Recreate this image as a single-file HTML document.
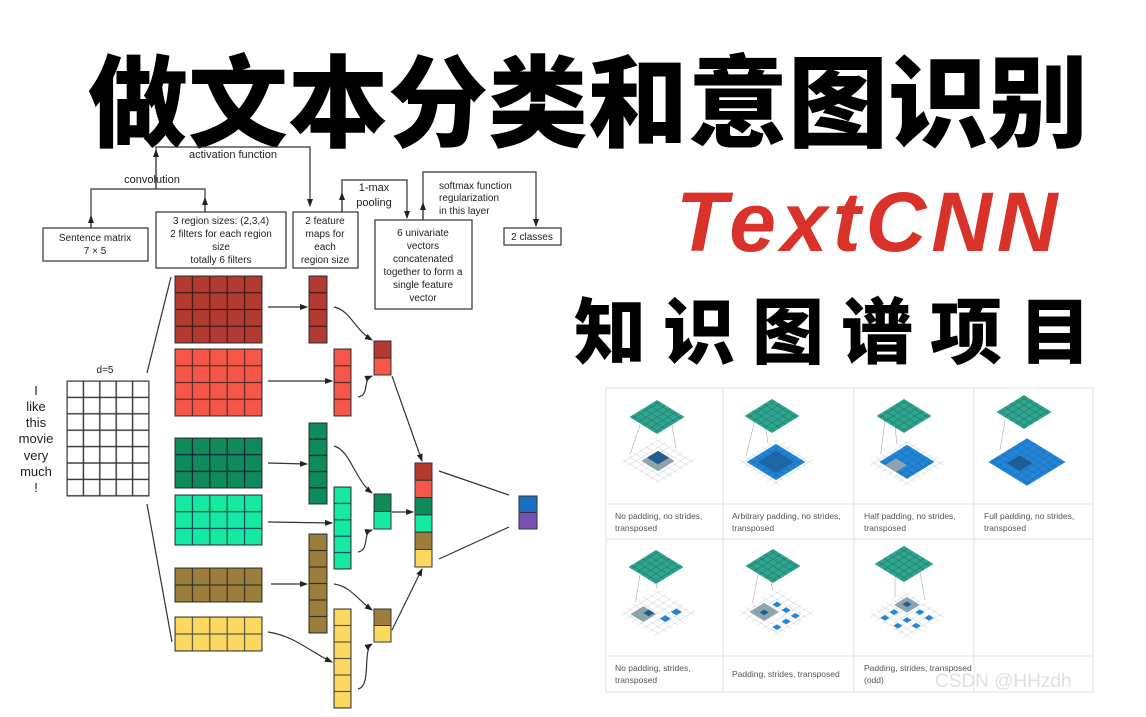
<!DOCTYPE html>
<html><head><meta charset="utf-8"><style>
html,body{margin:0;padding:0;background:#fff;}
body{width:1146px;height:717px;position:relative;overflow:hidden;}
.t{position:absolute;white-space:nowrap;}
</style></head><body>
<div class="t" style="left:88px;top:36px;font:900 100px/120px 'Noto Sans CJK SC',sans-serif;color:#000;">做文本分类和意图识别</div>
<div class="t" style="left:676px;top:172px;font:italic bold 84px/100px 'Liberation Sans',sans-serif;color:#d9322a;letter-spacing:5px;">TextCNN</div>
<div class="t" style="left:574px;top:282px;font:900 72px/90px 'Noto Sans CJK SC',sans-serif;color:#000;letter-spacing:17px;">知识图谱项目</div>

<svg width="1146" height="717" style="position:absolute;left:0;top:0" xmlns="http://www.w3.org/2000/svg">
<defs>
<marker id="ar" markerWidth="8" markerHeight="8" refX="7" refY="4" orient="auto" markerUnits="userSpaceOnUse"><path d="M0,1 L8,4 L0,7 z" fill="#222"/></marker>
<pattern id="g0" x="67" y="381" width="16.4" height="16.4" patternUnits="userSpaceOnUse"><rect width="16.4" height="16.4" fill="#fff" stroke="#333" stroke-width="1.4"/></pattern>
<pattern id="m1" x="175" y="276" width="17.4" height="16.75" patternUnits="userSpaceOnUse"><rect width="17.4" height="16.75" fill="#b23a30" stroke="#3a1a16" stroke-width="1.2"/></pattern>
<pattern id="m2" x="175" y="349" width="17.4" height="16.75" patternUnits="userSpaceOnUse"><rect width="17.4" height="16.75" fill="#f4574a" stroke="#5a2a22" stroke-width="1.2"/></pattern>
<pattern id="m3" x="175" y="438" width="17.4" height="16.7" patternUnits="userSpaceOnUse"><rect width="17.4" height="16.7" fill="#0f8a5a" stroke="#123" stroke-width="1.2"/></pattern>
<pattern id="m4" x="175" y="495" width="17.4" height="16.7" patternUnits="userSpaceOnUse"><rect width="17.4" height="16.7" fill="#14eaa2" stroke="#245" stroke-width="1.2"/></pattern>
<pattern id="m5" x="175" y="568" width="17.4" height="17" patternUnits="userSpaceOnUse"><rect width="17.4" height="17" fill="#9c7e3c" stroke="#332" stroke-width="1.2"/></pattern>
<pattern id="m6" x="175" y="617" width="17.4" height="17" patternUnits="userSpaceOnUse"><rect width="17.4" height="17" fill="#fbd860" stroke="#554" stroke-width="1.2"/></pattern>
<pattern id="c1" x="309" y="276" width="18" height="16.75" patternUnits="userSpaceOnUse"><rect width="18" height="16.75" fill="#b23a30" stroke="#3a1a16" stroke-width="1.2"/></pattern>
<pattern id="c2" x="334" y="349" width="17" height="16.75" patternUnits="userSpaceOnUse"><rect width="17" height="16.75" fill="#f4574a" stroke="#5a2a22" stroke-width="1.2"/></pattern>
<pattern id="c3" x="309" y="423" width="18" height="16.2" patternUnits="userSpaceOnUse"><rect width="18" height="16.2" fill="#0f8a5a" stroke="#123" stroke-width="1.2"/></pattern>
<pattern id="c4" x="334" y="487" width="17" height="16.4" patternUnits="userSpaceOnUse"><rect width="17" height="16.4" fill="#14eaa2" stroke="#245" stroke-width="1.2"/></pattern>
<pattern id="c5" x="309" y="534" width="18" height="16.5" patternUnits="userSpaceOnUse"><rect width="18" height="16.5" fill="#9c7e3c" stroke="#332" stroke-width="1.2"/></pattern>
<pattern id="c6" x="334" y="609" width="17" height="16.5" patternUnits="userSpaceOnUse"><rect width="17" height="16.5" fill="#fbd860" stroke="#554" stroke-width="1.2"/></pattern>
<pattern id="teal" x="0" y="0" width="6" height="6" patternUnits="userSpaceOnUse"><rect width="6" height="6" fill="#2ea58e" stroke="#1d6e60" stroke-width="0.5"/></pattern>
<pattern id="dash" x="0" y="0" width="6" height="6" patternUnits="userSpaceOnUse"><rect width="6" height="6" fill="#fff" stroke="#8a9aa8" stroke-width="0.4" stroke-dasharray="1,1"/></pattern>
<pattern id="blue" x="0" y="0" width="6" height="6" patternUnits="userSpaceOnUse"><rect width="6" height="6" fill="#2286d8" stroke="#1a5f9c" stroke-width="0.4"/></pattern>
</defs>

<g fill="none" stroke="#333" stroke-width="1.2">
<!-- top connectors -->
<polyline points="156,189 156,147 310,147 310,206" marker-end="url(#ar)"/>
<line x1="156" y1="189" x2="156" y2="150" marker-end="url(#ar)"/>
<polyline points="91,228 91,189 205,189 205,212"/>
<line x1="91" y1="228" x2="91" y2="216" marker-end="url(#ar)"/>
<line x1="205" y1="212" x2="205" y2="198" marker-end="url(#ar)"/>
<polyline points="342,212 342,180 407,180 407,218" marker-end="url(#ar)"/>
<line x1="342" y1="212" x2="342" y2="193" marker-end="url(#ar)"/>
<polyline points="423,220 423,172 536,172 536,226" marker-end="url(#ar)"/>
<line x1="423" y1="220" x2="423" y2="203" marker-end="url(#ar)"/>
<!-- boxes -->
<rect x="43" y="228" width="105" height="33" fill="#fff"/>
<rect x="156" y="212" width="130" height="56" fill="#fff"/>
<rect x="293" y="212" width="65" height="56" fill="#fff"/>
<rect x="375" y="220" width="97" height="89" fill="#fff"/>
<rect x="504" y="228" width="57" height="17" fill="#fff"/>
<!-- lines from input -->
<line x1="147" y1="373" x2="171" y2="277"/>
<line x1="147" y1="504" x2="172" y2="642"/>
<!-- matrix to feature -->
<line x1="268" y1="307" x2="307" y2="307" marker-end="url(#ar)"/>
<line x1="268" y1="381" x2="332" y2="381" marker-end="url(#ar)"/>
<line x1="268" y1="463" x2="307" y2="464" marker-end="url(#ar)"/>
<line x1="268" y1="522" x2="332" y2="523" marker-end="url(#ar)"/>
<line x1="271" y1="584" x2="307" y2="584" marker-end="url(#ar)"/>
<path d="M268,632 C295,636 310,652 332,662" marker-end="url(#ar)"/>
<!-- feature to pooled -->
<path d="M334,307 C350,310 355,330 372,340" marker-end="url(#ar)"/>
<path d="M358,397 C370,395 362,380 372,376" marker-end="url(#ar)"/>
<path d="M334,446 C350,450 355,480 372,493" marker-end="url(#ar)"/>
<path d="M358,552 C370,550 362,533 372,530" marker-end="url(#ar)"/>
<path d="M334,584 C350,586 358,600 372,610" marker-end="url(#ar)"/>
<path d="M358,689 C372,686 362,650 372,644" marker-end="url(#ar)"/>
<!-- pooled to vector -->
<line x1="392" y1="376" x2="422" y2="461" marker-end="url(#ar)"/>
<line x1="392" y1="512" x2="413" y2="512" marker-end="url(#ar)"/>
<line x1="392" y1="630" x2="422" y2="569" marker-end="url(#ar)"/>
<line x1="439" y1="471" x2="509" y2="495"/>
<line x1="439" y1="559" x2="509" y2="527"/>
</g>

<g font-family="Liberation Sans, sans-serif" font-size="11" fill="#222" text-anchor="middle">
<text x="233" y="158">activation function</text>
<text x="152" y="183">convolution</text>
<text x="95" y="241" font-size="10">Sentence matrix</text>
<text x="95" y="254" font-size="10">7 × 5</text>
<text x="221" y="224" font-size="10">3 region sizes: (2,3,4)</text>
<text x="221" y="237" font-size="10">2 filters for each region</text>
<text x="221" y="250" font-size="10">size</text>
<text x="221" y="263" font-size="10">totally 6 filters</text>
<text x="325" y="224" font-size="10">2 feature</text>
<text x="325" y="237" font-size="10">maps for</text>
<text x="325" y="250" font-size="10">each</text>
<text x="325" y="263" font-size="10">region size</text>
<text x="374" y="191">1-max</text>
<text x="374" y="206">pooling</text>
<text x="423" y="236" font-size="10">6 univariate</text>
<text x="423" y="249" font-size="10">vectors</text>
<text x="423" y="262" font-size="10">concatenated</text>
<text x="423" y="275" font-size="10">together to form a</text>
<text x="423" y="288" font-size="10">single feature</text>
<text x="423" y="301" font-size="10">vector</text>
<text x="532" y="240" font-size="10">2 classes</text>
<g text-anchor="start" font-size="10"><text x="439" y="189">softmax function</text><text x="439" y="201">regularization</text><text x="439" y="214">in this layer</text></g>
<text x="105" y="373" font-size="10">d=5</text>
<g font-size="13"><text x="36" y="395">I</text><text x="36" y="411">like</text><text x="36" y="427">this</text><text x="36" y="443">movie</text><text x="36" y="460">very</text><text x="36" y="476">much</text><text x="36" y="492">!</text></g>
</g>

<!-- grids -->
<g stroke="#333" stroke-width="1">
<rect x="67" y="381" width="82" height="115" fill="url(#g0)"/>
<rect x="175" y="276" width="87" height="67" fill="url(#m1)"/>
<rect x="175" y="349" width="87" height="67" fill="url(#m2)"/>
<rect x="175" y="438" width="87" height="50" fill="url(#m3)"/>
<rect x="175" y="495" width="87" height="50" fill="url(#m4)"/>
<rect x="175" y="568" width="87" height="34" fill="url(#m5)"/>
<rect x="175" y="617" width="87" height="34" fill="url(#m6)"/>
<rect x="309" y="276" width="18" height="67" fill="url(#c1)"/>
<rect x="334" y="349" width="17" height="67" fill="url(#c2)"/>
<rect x="309" y="423" width="18" height="81" fill="url(#c3)"/>
<rect x="334" y="487" width="17" height="82" fill="url(#c4)"/>
<rect x="309" y="534" width="18" height="99" fill="url(#c5)"/>
<rect x="334" y="609" width="17" height="99" fill="url(#c6)"/>
<rect x="374" y="341" width="17" height="17" fill="#b23a30"/><rect x="374" y="358" width="17" height="17" fill="#f4574a"/>
<rect x="374" y="494" width="17" height="17.5" fill="#0f8a5a"/><rect x="374" y="511.5" width="17" height="17.5" fill="#14eaa2"/>
<rect x="374" y="609" width="17" height="16.5" fill="#9c7e3c"/><rect x="374" y="625.5" width="17" height="16.5" fill="#fbd860"/>
<rect x="415" y="463" width="17" height="17.3" fill="#b23a30"/><rect x="415" y="480.3" width="17" height="17.3" fill="#f4574a"/>
<rect x="415" y="497.6" width="17" height="17.3" fill="#0f8a5a"/><rect x="415" y="514.9" width="17" height="17.3" fill="#14eaa2"/>
<rect x="415" y="532.2" width="17" height="17.3" fill="#9c7e3c"/><rect x="415" y="549.5" width="17" height="17.5" fill="#fbd860"/>
<rect x="519" y="496" width="18" height="16.5" fill="#1a6fc0"/><rect x="519" y="512.5" width="18" height="16.5" fill="#7a4fb5"/>
</g>

<!-- right table -->
<g stroke="#e2e2e2" stroke-width="1" fill="none">
<rect x="606" y="388" width="487" height="304"/>
<line x1="723" y1="388" x2="723" y2="692"/><line x1="854" y1="388" x2="854" y2="692"/><line x1="974" y1="388" x2="974" y2="692"/>
<line x1="606" y1="504" x2="1093" y2="504"/><line x1="606" y1="539" x2="1093" y2="539"/><line x1="606" y1="656" x2="1093" y2="656"/>
</g>
<g stroke="#aaa" stroke-width="0.6">
<line x1="640" y1="425" x2="630" y2="455"/><line x1="672" y1="425" x2="678" y2="460"/>
<line x1="755" y1="420" x2="745" y2="460"/><line x1="765" y1="425" x2="770" y2="455"/>
<line x1="885" y1="420" x2="880" y2="460"/><line x1="895" y1="425" x2="898" y2="455"/>
<line x1="1005" y1="420" x2="1000" y2="450"/><line x1="640" y1="575" x2="635" y2="605"/>
<line x1="655" y1="578" x2="660" y2="605"/><line x1="758" y1="575" x2="752" y2="605"/><line x1="770" y1="578" x2="775" y2="600"/>
<line x1="895" y1="572" x2="895" y2="600"/><line x1="920" y1="572" x2="925" y2="600"/>
</g>
<!-- bottom grids -->
<g transform="translate(658,461) scale(1.3,0.8) rotate(45)"><rect x="-21" y="-21" width="42" height="42" fill="url(#dash)"/><rect x="-9" y="-9" width="18" height="18" fill="#8fa3ad"/><rect x="-9" y="-9" width="12" height="12" fill="#1f5f8f"/></g>
<g transform="translate(776,462) scale(1.3,0.8) rotate(45)"><rect x="-22" y="-22" width="44" height="44" fill="url(#dash)"/><rect x="-16" y="-16" width="32" height="32" fill="url(#blue)"/><rect x="-10" y="-10" width="20" height="20" fill="#1c5f98" opacity="0.8"/></g>
<g transform="translate(907,463) scale(1.3,0.8) rotate(45)"><rect x="-22" y="-22" width="44" height="44" fill="url(#dash)"/><rect x="-16" y="-16" width="30" height="30" fill="url(#blue)"/><rect x="-10" y="2" width="12" height="12" fill="#8fa3ad"/></g>
<g transform="translate(1027,462) scale(1.3,0.8) rotate(45)"><rect x="-21" y="-21" width="42" height="42" fill="url(#blue)"/><rect x="-10" y="-2" width="14" height="14" fill="#1c5f98"/></g>
<g transform="translate(658,613) scale(1.3,0.8) rotate(45)"><rect x="-22" y="-22" width="44" height="44" fill="url(#dash)"/><rect x="-14" y="2" width="14" height="14" fill="#8fa3ad"/><rect x="-8" y="2" width="6" height="6" fill="#1f5f8f"/><rect x="6" y="-2" width="6" height="6" fill="#2286d8"/><rect x="6" y="-14" width="6" height="6" fill="#2286d8"/></g>
<g transform="translate(777,613) scale(1.3,0.8) rotate(45)"><rect x="-22" y="-22" width="44" height="44" fill="url(#dash)"/><rect x="-16" y="-2" width="16" height="16" fill="#8fa3ad"/><rect x="-10" y="-10" width="5" height="5" fill="#2286d8"/><rect x="0" y="-10" width="5" height="5" fill="#2286d8"/><rect x="10" y="-10" width="5" height="5" fill="#2286d8"/><rect x="10" y="0" width="5" height="5" fill="#2286d8"/><rect x="10" y="10" width="5" height="5" fill="#2286d8"/><rect x="-10" y="4" width="5" height="5" fill="#1f5f8f"/></g>
<g transform="translate(907,615) scale(1.3,0.8) rotate(45)"><rect x="-22" y="-22" width="44" height="44" fill="url(#dash)"/><rect x="-16" y="-16" width="14" height="14" fill="#8fa3ad"/><rect x="-12" y="-12" width="5" height="5" fill="#1f5f8f"/><rect x="2" y="-12" width="5" height="5" fill="#2286d8"/><rect x="12" y="-12" width="5" height="5" fill="#2286d8"/><rect x="-12" y="2" width="5" height="5" fill="#2286d8"/><rect x="2" y="2" width="5" height="5" fill="#2286d8"/><rect x="12" y="2" width="5" height="5" fill="#2286d8"/><rect x="-12" y="12" width="5" height="5" fill="#2286d8"/><rect x="2" y="12" width="5" height="5" fill="#2286d8"/></g>
<!-- top teal -->
<g transform="translate(657,417) scale(1.3,0.8) rotate(45)"><rect x="-15" y="-15" width="30" height="30" fill="url(#teal)"/></g>
<g transform="translate(772,416) scale(1.3,0.8) rotate(45)"><rect x="-15" y="-15" width="30" height="30" fill="url(#teal)"/></g>
<g transform="translate(904,416) scale(1.3,0.8) rotate(45)"><rect x="-15" y="-15" width="30" height="30" fill="url(#teal)"/></g>
<g transform="translate(1024,412) scale(1.3,0.8) rotate(45)"><rect x="-15" y="-15" width="30" height="30" fill="url(#teal)"/></g>
<g transform="translate(656,567) scale(1.3,0.8) rotate(45)"><rect x="-15" y="-15" width="30" height="30" fill="url(#teal)"/></g>
<g transform="translate(773,566) scale(1.3,0.8) rotate(45)"><rect x="-15" y="-15" width="30" height="30" fill="url(#teal)"/></g>
<g transform="translate(904,564) scale(1.3,0.8) rotate(45)"><rect x="-16" y="-16" width="32" height="32" fill="url(#teal)"/></g>

<g font-family="Liberation Sans, sans-serif" font-size="8.5" fill="#555">
<text x="615" y="519">No padding, no strides,</text><text x="615" y="531">transposed</text>
<text x="732" y="519">Arbitrary padding, no strides,</text><text x="732" y="531">transposed</text>
<text x="864" y="519">Half padding, no strides,</text><text x="864" y="531">transposed</text>
<text x="984" y="519">Full padding, no strides,</text><text x="984" y="531">transposed</text>
<text x="615" y="671">No padding, strides,</text><text x="615" y="683">transposed</text>
<text x="732" y="677">Padding, strides, transposed</text>
<text x="864" y="671">Padding, strides, transposed</text><text x="864" y="683">(odd)</text>
</g>
<text x="935" y="687" font-family="Liberation Sans, sans-serif" font-size="19" fill="#e0e0e0">CSDN @HHzdh</text>
</svg>
</body></html>
